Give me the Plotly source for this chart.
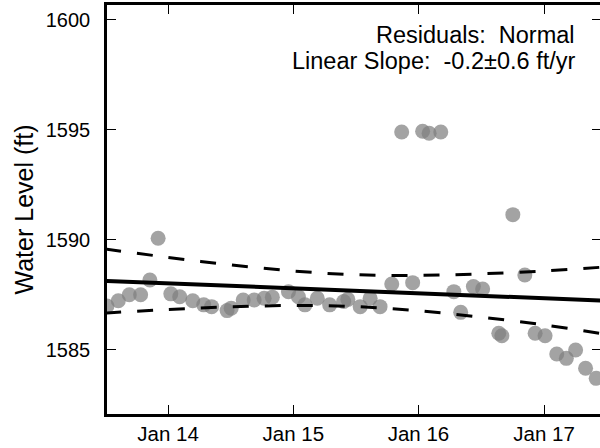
import plotly.graph_objects as go

# observed water levels
dates = ["2013-07-07", "2013-08-09", "2013-09-10", "2013-10-13", "2013-11-09", "2013-12-03",
         "2014-01-09", "2014-02-04", "2014-03-14", "2014-04-15", "2014-05-08", "2014-06-22",
         "2014-07-04", "2014-08-08", "2014-09-09", "2014-10-08", "2014-11-01", "2014-12-18",
         "2015-01-16", "2015-02-04", "2015-03-12", "2015-04-17", "2015-05-28", "2015-06-09",
         "2015-07-15", "2015-08-13", "2015-09-11", "2015-10-15", "2015-11-13", "2015-12-15",
         "2016-01-13", "2016-02-01", "2016-03-06", "2016-04-13", "2016-05-03", "2016-06-09",
         "2016-07-06", "2016-08-22", "2016-08-31", "2016-10-02", "2016-11-06", "2016-12-06",
         "2017-01-04", "2017-02-07", "2017-03-07", "2017-04-03", "2017-05-02", "2017-06-02"]
levels = [1587.00, 1587.24, 1587.51, 1587.51, 1588.18, 1590.08,
          1587.55, 1587.42, 1587.24, 1587.05, 1586.97, 1586.79,
          1586.90, 1587.27, 1587.27, 1587.35, 1587.40, 1587.65,
          1587.42, 1587.05, 1587.35, 1587.05, 1587.20, 1587.30,
          1586.97, 1587.35, 1586.97, 1588.00, 1594.91, 1588.06,
          1594.94, 1594.85, 1594.91, 1587.65, 1586.71, 1587.88,
          1587.77, 1585.76, 1585.65, 1591.15, 1588.41, 1585.76,
          1585.65, 1584.82, 1584.62, 1585.00, 1584.17, 1583.71]

# linear trend and confidence band
fit_dates = ["2013-07-01", "2014-01-01", "2014-07-01", "2015-01-01", "2015-07-01",
             "2016-01-01", "2016-07-01", "2017-01-01", "2017-06-16"]
trend = [1588.14, 1588.03, 1587.92, 1587.81, 1587.70, 1587.59, 1587.48, 1587.36, 1587.25]
upper = [1589.59, 1589.21, 1588.87, 1588.59, 1588.42, 1588.39, 1588.46, 1588.59, 1588.76]
lower = [1586.68, 1586.84, 1586.96, 1587.02, 1586.97, 1586.78, 1586.49, 1586.14, 1585.75]

xtick_vals = ["2014-01-01", "2015-01-01", "2016-01-01", "2017-01-01"]
xtick_text = ["Jan 14", "Jan 15", "Jan 16", "Jan 17"]
ytick_vals = [1585, 1590, 1595, 1600]

font = "Liberation Sans, Arial, sans-serif"

fig = go.Figure()
fig.add_trace(go.Scatter(x=dates, y=levels, mode="markers",
                         marker=dict(size=15, color="rgb(128,128,128)", opacity=0.72,
                                     line=dict(width=0))))
for band in (upper, lower):
    fig.add_trace(go.Scatter(x=fit_dates, y=band, mode="lines", line_shape="spline",
                             line=dict(color="black", width=3, dash="16px,16px")))
fig.add_trace(go.Scatter(x=fit_dates, y=trend, mode="lines",
                         line=dict(color="black", width=4)))

# stats text, two lines placed separately to get the tighter line spacing
for txt, ypos in (("Residuals:\u00a0\u00a0Normal", 0.927),
                  ("Linear Slope:\u00a0\u00a0-0.2±0.6 ft/yr", 0.864)):
    fig.add_annotation(x=0.951, y=ypos, xref="paper", yref="paper",
                       xanchor="right", yanchor="middle", showarrow=False, text=txt,
                       font=dict(size=23.5, color="black", family=font))

# figure is a few px wider than the window so the right spine falls just off-screen,
# like in the reference
fig.update_layout(
    width=604, height=448,
    margin=dict(l=107, r=0, t=5, b=34),
    paper_bgcolor="white", plot_bgcolor="white",
    showlegend=False,
    font=dict(family=font, color="black", size=20),
    xaxis=dict(range=["2013-07-07", "2017-06-16"], tickvals=xtick_vals, ticktext=xtick_text,
               showgrid=False, zeroline=False, showline=True, linecolor="black", linewidth=2.7,
               mirror="allticks", ticks="inside", ticklen=9, tickwidth=1.3, tickcolor="black",
               tickfont=dict(size=20.5)),
    yaxis=dict(range=[1582.09, 1600.68], tickvals=ytick_vals,
               showgrid=False, zeroline=False, showline=True, linecolor="black", linewidth=2.7,
               mirror="allticks", ticks="inside", ticklen=9, tickwidth=1.3, tickcolor="black",
               tickfont=dict(size=20), ticklabelstandoff=10,
               title=dict(text="Water Level (ft)", font=dict(size=25), standoff=5)),
)

# page body has an 8px default margin; drop it so the figure sits at the corner
fig.write_html("out.html", config={"displayModeBar": False},
               post_script="document.body.style.margin='0';document.body.style.overflow='hidden';")
